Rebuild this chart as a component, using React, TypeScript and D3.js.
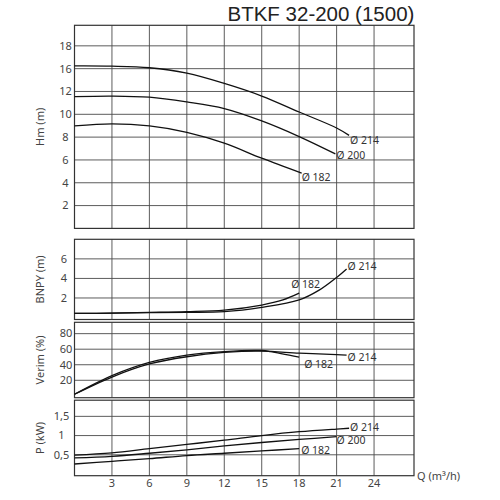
import React, { useRef, useEffect } from "react";
import * as d3 from "d3";

const title = "BTKF 32-200 (1500)";
const xTicks = [3, 6, 9, 12, 15, 18, 21, 24];
const xTitle = "Q (m³/h)";

// Hm (m) - the printed labels on the original do not follow the grid
const hmTicks = [2, 4, 6, 8, 10, 12, 14, 16];
const hmTickLabels = ["2", "4", "6", "8", "10", "12", "16", "18"];
const hmQ214 = [0, 3, 6, 9, 12, 15, 18, 21, 22];
const hm214 = [14.24, 14.22, 14.08, 13.6, 12.7, 11.6, 10.2, 8.8, 8.15];
const hmQ200 = [0, 3, 6, 9, 12, 15, 18, 20.9];
const hm200 = [11.55, 11.6, 11.5, 11.08, 10.5, 9.42, 8.05, 6.53];
const hmQ182 = [0, 3, 6, 9, 12, 15, 18.2];
const hm182 = [8.98, 9.16, 8.98, 8.42, 7.47, 6.15, 4.84];

// BNPY (m)
const npshTicks = [2, 4, 6];
const npshQ214 = [0, 3, 6, 9, 12, 15, 18, 19.6, 21, 21.8];
const npsh214 = [0.42, 0.45, 0.5, 0.53, 0.6, 1.04, 1.8, 2.8, 4.1, 4.97];
const npshQ182 = [0, 3, 6, 9, 12, 15, 16.7, 18];
const npsh182 = [0.42, 0.45, 0.52, 0.6, 0.76, 1.28, 1.8, 2.49];

// Verim (%)
const effTicks = [20, 40, 60, 80];
const effQ214 = [0, 3, 6, 9, 12, 15, 18, 21, 21.8];
const eff214 = [2, 24.2, 41, 50.3, 55.8, 57.5, 54.9, 53, 52.3];
const effQ182 = [0, 3, 6, 9, 12, 15, 15.7, 18];
const eff182 = [2, 26, 43, 52.5, 57, 58.3, 57, 49.7];

// P (kW)
const pTicks = [0.5, 1, 1.5];
const pTickLabels = ["0,5", "1", "1,5"];
const pQ214 = [0, 3, 6, 9, 12, 15, 18, 21, 22];
const p214 = [0.49, 0.55, 0.66, 0.77, 0.88, 1.0, 1.1, 1.17, 1.19];
const pQ200 = [0, 3, 6, 9, 12, 15, 18, 21];
const p200 = [0.42, 0.46, 0.54, 0.63, 0.73, 0.82, 0.9, 0.97];
const pQ182 = [0, 3, 6, 9, 12, 15, 18];
const p182 = [0.26, 0.33, 0.4, 0.48, 0.54, 0.6, 0.66];

type Series = { q: number[]; v: number[]; label: string; dx: number; dy: number };
type Panel = {
  title: string;
  domain: [number, number];
  range: [number, number];
  ticks: number[];
  tickLabels: string[];
  tickX: number;
  series: Series[];
};

const FONT = "'Noto Sans', sans-serif";

const panels: Panel[] = [
  {
    title: "Hm (m)",
    domain: [0, 17.8],
    range: [228.4, 25.3],
    ticks: hmTicks,
    tickLabels: hmTickLabels,
    tickX: 65.5,
    series: [
      { q: hmQ214, v: hm214, label: "Ø 214", dx: 1, dy: 9 },
      { q: hmQ200, v: hm200, label: "Ø 200", dx: 1, dy: 5 },
      { q: hmQ182, v: hm182, label: "Ø 182", dx: 0, dy: 8 },
    ],
  },
  {
    title: "BNPY (m)",
    domain: [-0.2, 8.0],
    range: [319.5, 239.3],
    ticks: npshTicks,
    tickLabels: npshTicks.map(String),
    tickX: 64,
    series: [
      { q: npshQ214, v: npsh214, label: "Ø 214", dx: 1, dy: 1 },
      { q: npshQ182, v: npsh182, label: "Ø 182", dx: -8, dy: -5 },
    ],
  },
  {
    title: "Verim (%)",
    domain: [-2.4, 94.6],
    range: [397.7, 322.3],
    ticks: effTicks,
    tickLabels: effTicks.map(String),
    tickX: 66,
    series: [
      { q: effQ214, v: eff214, label: "Ø 214", dx: 1, dy: 6 },
      { q: effQ182, v: eff182, label: "Ø 182", dx: 5, dy: 11 },
    ],
  },
  {
    title: "P (kW)",
    domain: [-0.044, 1.92],
    range: [475.7, 400.2],
    ticks: pTicks,
    tickLabels: pTickLabels,
    tickX: 61.5,
    series: [
      { q: pQ214, v: p214, label: "Ø 214", dx: 1, dy: 3 },
      { q: pQ200, v: p200, label: "Ø 200", dx: 0, dy: 7 },
      { q: pQ182, v: p182, label: "Ø 182", dx: 2, dy: 5 },
    ],
  },
];

const PumpChart: React.FC = () => {
  const ref = useRef<SVGSVGElement | null>(null);

  useEffect(() => {
    if (!ref.current) return;
    const svg = d3.select(ref.current);
    svg.selectAll("*").remove();

    const x = d3.scaleLinear().domain([0, 27.2]).range([74.5, 414]);
    const [x0, x1] = x.range();

    svg
      .append("text")
      .attr("x", 227.5)
      .attr("y", 20.5)
      .style("font-family", "'Liberation Sans', Arial, sans-serif")
      .style("font-size", "20.5px")
      .style("fill", "#222")
      .text(title);

    panels.forEach((p) => {
      const y = d3.scaleLinear().domain(p.domain).range(p.range);
      const [yb, yt] = p.range;
      const g = svg.append("g");

      // grid
      g.selectAll(".hgrid")
        .data(p.ticks)
        .enter()
        .append("line")
        .attr("x1", x0)
        .attr("x2", x1)
        .attr("y1", (d) => y(d))
        .attr("y2", (d) => y(d))
        .attr("stroke", "#4a4a4a")
        .attr("stroke-width", 0.9);

      g.selectAll(".vgrid")
        .data(xTicks)
        .enter()
        .append("line")
        .attr("x1", (d) => x(d))
        .attr("x2", (d) => x(d))
        .attr("y1", yt)
        .attr("y2", yb)
        .attr("stroke", "#4a4a4a")
        .attr("stroke-width", 0.9);

      g.append("rect")
        .attr("x", x0)
        .attr("y", yt)
        .attr("width", x1 - x0)
        .attr("height", yb - yt)
        .attr("fill", "none")
        .attr("stroke", "#333")
        .attr("stroke-width", 1.2);

      // tick labels
      g.selectAll(".tick")
        .data(p.ticks)
        .enter()
        .append("text")
        .attr("x", p.tickX)
        .attr("y", (d) => y(d))
        .attr("dy", "0.35em")
        .attr("text-anchor", "middle")
        .style("font-family", FONT)
        .style("font-size", "11px")
        .style("fill", "#444")
        .text((d, i) => p.tickLabels[i]);

      // axis title
      g.append("text")
        .attr("transform", `translate(40,${(yt + yb) / 2}) rotate(-90)`)
        .attr("text-anchor", "middle")
        .attr("dy", "0.35em")
        .style("font-family", FONT)
        .style("font-size", "11px")
        .style("fill", "#444")
        .text(p.title);

      // curves
      const line = d3
        .line<[number, number]>()
        .x((d) => x(d[0]))
        .y((d) => y(d[1]))
        .curve(d3.curveCatmullRom.alpha(0.5));

      p.series.forEach((s) => {
        const pts: [number, number][] = s.q.map((q, i) => [q, s.v[i]]);
        g.append("path")
          .attr("d", line(pts))
          .attr("fill", "none")
          .attr("stroke", "#111")
          .attr("stroke-width", 1.3);
        const last = pts[pts.length - 1];
        g.append("text")
          .attr("x", x(last[0]) + s.dx)
          .attr("y", y(last[1]) + s.dy)
          .style("font-family", FONT)
          .style("font-size", "10.5px")
          .style("fill", "#333")
          .text(s.label);
      });
    });

    // x tick labels
    svg
      .selectAll(".xtick")
      .data(xTicks)
      .enter()
      .append("text")
      .attr("x", (d) => x(d))
      .attr("y", 487)
      .attr("text-anchor", "middle")
      .style("font-family", FONT)
      .style("font-size", "11px")
      .style("fill", "#444")
      .text((d) => String(d));

    svg
      .append("text")
      .attr("x", 417)
      .attr("y", 480)
      .style("font-family", FONT)
      .style("font-size", "11px")
      .style("fill", "#444")
      .text(xTitle);
  }, []);

  return (
    <svg
      ref={ref}
      width={500}
      height={500}
      style={{ position: "absolute", left: 0, top: 0, background: "#fff" }}
    ></svg>
  );
};

export default function App() {
  return <PumpChart />;
}
